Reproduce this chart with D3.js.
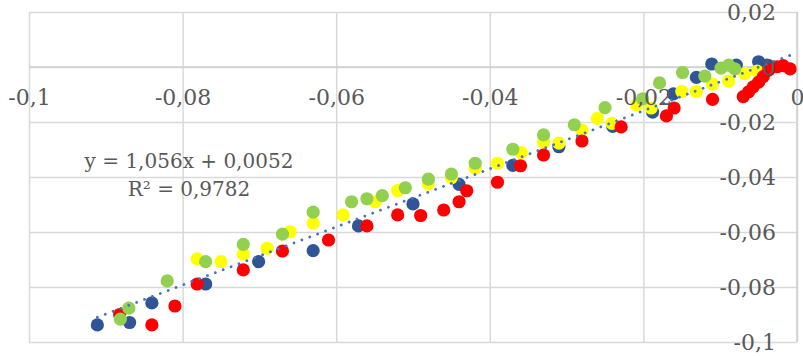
<!DOCTYPE html>
<html>
<head>
<meta charset="utf-8">
<script src="https://cdn.jsdelivr.net/npm/d3@7"></script>
<style>
  html, body { margin: 0; padding: 0; background: #ffffff; }
  svg { display: block; }
</style>
</head>
<body>
<svg id="chart" width="803" height="356"></svg>
<script>
// ---- data ----
const blueX = [-0.0911,-0.0869,-0.0840,-0.0770,-0.0701,-0.0630,-0.0571,-0.0500,-0.0440,-0.0370,-0.0310,-0.0240,-0.0188,-0.0161,-0.0131,-0.0111,-0.0079,-0.0050,-0.0039];
const blueY = [-0.0938,-0.0929,-0.0858,-0.0789,-0.0708,-0.0668,-0.0578,-0.0498,-0.0427,-0.0358,-0.0290,-0.0216,-0.0164,-0.0098,-0.0038,0.0011,0.0007,0.0019,0.0007];

const redX = [-0.0882,-0.0840,-0.0810,-0.0781,-0.0721,-0.0670,-0.0610,-0.0560,-0.0520,-0.0490,-0.0460,-0.0440,-0.0430,-0.0390,-0.0360,-0.0330,-0.0280,-0.0229,-0.0170,-0.0160,-0.0110,-0.0070,-0.0063,-0.0057,-0.0050,-0.0044,-0.0037,-0.0026,-0.0018,-0.0009];
const redY = [-0.0900,-0.0938,-0.0869,-0.0789,-0.0738,-0.0669,-0.0629,-0.0578,-0.0538,-0.0540,-0.0520,-0.0490,-0.0450,-0.0419,-0.0359,-0.0320,-0.0269,-0.0218,-0.0178,-0.0149,-0.0118,-0.0108,-0.0090,-0.0072,-0.0055,-0.0035,-0.0011,0.0001,0.0005,-0.0007];

const yellowX = [-0.0781,-0.0750,-0.0721,-0.0690,-0.0660,-0.0630,-0.0591,-0.0549,-0.0520,-0.0480,-0.0450,-0.0419,-0.0390,-0.0359,-0.0330,-0.0310,-0.0280,-0.0260,-0.0241,-0.0209,-0.0190,-0.0150,-0.0131,-0.0110,-0.0089,-0.0068,-0.0052];
const yellowY = [-0.0698,-0.0708,-0.0680,-0.0659,-0.0599,-0.0568,-0.0538,-0.0490,-0.0449,-0.0425,-0.0403,-0.0368,-0.0350,-0.0311,-0.0273,-0.0277,-0.0229,-0.0187,-0.0205,-0.0138,-0.0149,-0.0089,-0.0089,-0.0062,-0.0051,-0.0024,-0.0015];

const greenX = [-0.0881,-0.0870,-0.0820,-0.0770,-0.0721,-0.0670,-0.0630,-0.0580,-0.0560,-0.0540,-0.0510,-0.0480,-0.0450,-0.0419,-0.0370,-0.0330,-0.0290,-0.0250,-0.0201,-0.0179,-0.0149,-0.0120,-0.0099,-0.0089,-0.0081];
const greenY = [-0.0917,-0.0877,-0.0778,-0.0708,-0.0645,-0.0608,-0.0528,-0.0490,-0.0479,-0.0468,-0.0439,-0.0408,-0.0389,-0.0350,-0.0299,-0.0247,-0.0210,-0.0148,-0.0116,-0.0058,-0.0020,-0.0033,-0.0004,0.0007,-0.0007];

const xTickValues = [-0.1, -0.08, -0.06, -0.04, -0.02, 0];
const yTickValues = [0.02, 0, -0.02, -0.04, -0.06, -0.08, -0.1];
const trendSlope = 1.056;
const trendIntercept = 0.0052;
const equationLines = ["y = 1,056x + 0,0052", "R² = 0,9782"];

// ---- drawing ----
const svg = d3.select("#chart");
const pLeft = 29, pRight = 797, pTop = 12, pBottom = 342;
const x = d3.scaleLinear().domain([-0.1, 0]).range([pLeft, pRight]);
const y = d3.scaleLinear().domain([-0.1, 0.02]).range([pBottom, pTop]);
const fmt = v => String(+v.toFixed(4)).replace(".", ",");

const series = [
  { xs: blueX, ys: blueY, color: "#2F5597" },
  { xs: yellowX, ys: yellowY, color: "#FFFF00" },
  { xs: redX, ys: redY, color: "#FF0000" },
  { xs: greenX, ys: greenY, color: "#92D050" }
];

// gridlines via axes
const gx = svg.append("g").attr("transform", `translate(0,${pBottom})`)
  .call(d3.axisBottom(x).tickValues(xTickValues).tickSize(-(pBottom - pTop)).tickFormat(""));
const gy = svg.append("g").attr("transform", `translate(${pLeft},0)`)
  .call(d3.axisLeft(y).tickValues(yTickValues).tickSize(-(pRight - pLeft)).tickFormat(""));
[gx, gy].forEach(g => {
  g.select(".domain").remove();
  g.selectAll(".tick line").attr("stroke", "#d9d9d9").attr("stroke-width", 1.5);
});
// axis lines through zero
svg.append("line").attr("x1", pLeft).attr("x2", pRight).attr("y1", y(0)).attr("y2", y(0))
  .attr("stroke", "#cfcfcf").attr("stroke-width", 1.5);
svg.append("line").attr("x1", x(0)).attr("x2", x(0)).attr("y1", pTop).attr("y2", pBottom)
  .attr("stroke", "#cfcfcf").attr("stroke-width", 1.5);

// points
series.forEach(s => {
  svg.append("g").selectAll("circle")
    .data(s.xs.map((v, i) => [v, s.ys[i]]))
    .join("circle")
    .attr("cx", d => x(d[0]))
    .attr("cy", d => y(d[1]))
    .attr("r", 6.6)
    .attr("fill", s.color);
});

// trendline
const allX = [].concat(blueX, redX, yellowX, greenX);
const tx = d3.extent(allX);
svg.append("line")
  .attr("x1", x(tx[0])).attr("y1", y(trendSlope * tx[0] + trendIntercept))
  .attr("x2", x(tx[1])).attr("y2", y(trendSlope * tx[1] + trendIntercept))
  .attr("stroke", "#4472C4").attr("stroke-width", 2.8)
  .attr("stroke-linecap", "round").attr("stroke-dasharray", "0.01 8.4");

// tick labels via axes
const font = "'DejaVu Serif', serif";
const xl = svg.append("g").attr("transform", `translate(0,${y(0)})`)
  .call(d3.axisBottom(x).tickValues(xTickValues).tickSize(0).tickPadding(0).tickFormat(fmt));
xl.select(".domain").remove();
xl.selectAll("text").attr("dy", null).attr("y", 38)
  .attr("font-family", font).attr("font-size", 22).attr("fill", "#595959");

const yl = svg.append("g").attr("transform", `translate(776,0)`)
  .call(d3.axisLeft(y).tickValues(yTickValues).tickSize(0).tickPadding(0).tickFormat(fmt));
yl.select(".domain").remove();
yl.selectAll("text").attr("dy", null).attr("y", 7.5).attr("x", 0)
  .attr("font-family", font).attr("font-size", 22).attr("fill", "#595959");

// trendline equation
svg.append("g").selectAll("text").data(equationLines).join("text")
  .attr("x", 189).attr("y", (d, i) => 168 + i * 28)
  .attr("text-anchor", "middle")
  .attr("font-family", font).attr("font-size", 20).attr("fill", "#595959")
  .text(d => d);
</script>
</body>
</html>
